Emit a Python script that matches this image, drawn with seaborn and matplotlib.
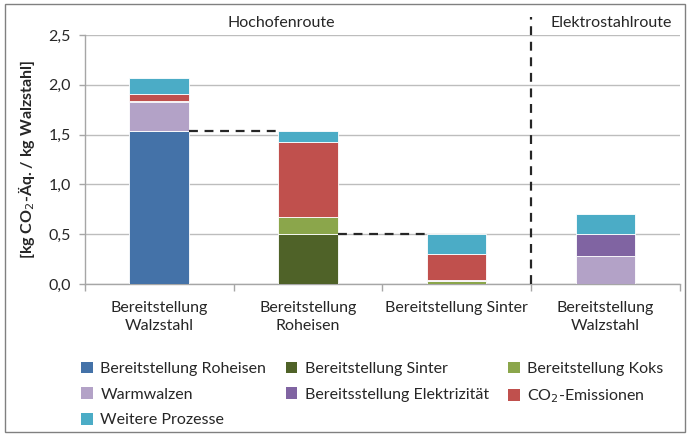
import numpy as np
import pandas as pd
import matplotlib
matplotlib.use("Agg")
import matplotlib.pyplot as plt
import seaborn as sns
from matplotlib.patches import Rectangle, Patch
from matplotlib.ticker import FuncFormatter, FixedLocator

# ── data ──────────────────────────────────────
categories = ["Bereitstellung\nWalzstahl", "Bereitstellung\nRoheisen",
              "Bereitstellung Sinter", "Bereitstellung\nWalzstahl"]
cat_ids = ["c0", "c1", "c2", "c3"]

roheisen     = [1.54, 0.00, 0.00, 0.00]
sinter       = [0.00, 0.505, 0.00, 0.00]
koks         = [0.00, 0.165, 0.03, 0.00]
warmwalzen   = [0.29, 0.00, 0.015, 0.28]
elektrizitaet = [0.01, 0.00, 0.00, 0.22]
co2          = [0.065, 0.76, 0.255, 0.00]
weitere      = [0.165, 0.11, 0.20, 0.20]

series_names = ["Bereitstellung Roheisen", "Bereitstellung Sinter", "Bereitstellung Koks",
                "Warmwalzen", "Bereitsstellung Elektrizität", "CO$_2$-Emissionen",
                "Weitere Prozesse"]
series_vals = [roheisen, sinter, koks, warmwalzen, elektrizitaet, co2, weitere]
colors = ["#4472A8", "#4F6228", "#8BA64B", "#B3A2C7", "#8064A2", "#C0504D", "#4BACC6"]

connector_levels = [1.54, 0.505]   # dashed links between bars
route_labels = ["Hochofenroute", "Elektrostahlroute"]

FS = 11.5

# ── plot ──────────────────────────────────────
sns.set_theme(style="white")
plt.rcParams["font.family"] = ["Lato", "DejaVu Sans"]

fig = plt.figure(figsize=(6.9, 4.37), dpi=100)
ax = fig.add_axes([0.123, 0.35, 0.862, 0.57])

bottom = np.zeros(len(cat_ids))
for name, vals, col in zip(series_names, series_vals, colors):
    df = pd.DataFrame({"cat": cat_ids, "val": vals})
    sns.barplot(data=df, x="cat", y="val", order=cat_ids, color=col, width=0.4, saturation=1,
                bottom=bottom, edgecolor="white", linewidth=0.6, ax=ax, zorder=3)
    bottom = bottom + np.array(vals)

ax.set_xlim(-0.5, 3.5)
ax.set_ylim(0, 2.5)
ax.set_yticks(np.arange(0, 2.51, 0.5))
ax.yaxis.set_major_formatter(FuncFormatter(lambda v, p: f"{v:.1f}".replace(".", ",")))
ax.yaxis.grid(True, color="#BDBDBD", linewidth=1.0, zorder=0)
ax.set_axisbelow(True)

ax.set_xticks(range(4))
ax.set_xticklabels(categories, fontsize=FS, color="#262626", linespacing=1.4)
ax.xaxis.set_minor_locator(FixedLocator([-0.5, 0.5, 1.5, 2.5, 3.5]))
ax.tick_params(axis="x", which="major", length=0, pad=12)
ax.tick_params(axis="x", which="minor", length=5, color="#A6A6A6", width=1.0, direction="out", bottom=True)
ax.tick_params(axis="y", length=4, color="#A6A6A6", width=1.0, direction="out", left=True,
               labelsize=FS, labelcolor="#262626", pad=6)

for s in ["top", "right"]:
    ax.spines[s].set_visible(False)
for s in ["left", "bottom"]:
    ax.spines[s].set_color("#A6A6A6")
    ax.spines[s].set_linewidth(1.0)

ax.set_xlabel("")
ax.set_ylabel("[kg CO$_2$-Äq. / kg Walzstahl]", fontsize=FS, fontweight="bold",
              color="#262626", labelpad=8)

# dashed connectors
ax.plot([0.2, 0.8], [connector_levels[0]] * 2, ls=(0, (4, 3)), color="#262626", lw=1.6, zorder=4)
ax.plot([1.2, 1.8], [connector_levels[1]] * 2, ls=(0, (4, 3)), color="#262626", lw=1.6, zorder=4)

# route separator
ax.plot([2.5, 2.5], [0, 2.68], ls=(0, (4, 3)), color="#262626", lw=1.6, clip_on=False, zorder=4)
ax.text(0.82, 2.62, route_labels[0], ha="center", va="center", fontsize=FS, color="#262626")
ax.text(3.04, 2.62, route_labels[1], ha="center", va="center", fontsize=FS, color="#262626")

# legend, filled row by row like the original
order = [0, 3, 6, 1, 4, 2, 5]
handles = [Patch(facecolor=colors[i], edgecolor="none") for i in order]
labels = [series_names[i] for i in order]
fig.legend(handles, labels, ncol=3, loc="upper left", bbox_to_anchor=(0.097, 0.205),
           frameon=False, fontsize=FS, handlelength=0.75, handleheight=0.75,
           handletextpad=0.45, columnspacing=1.2, labelspacing=0.7, labelcolor="#262626")

# figure frame
fig.patches.append(Rectangle((5 / 690, 5 / 437), 680 / 690, 428 / 437, transform=fig.transFigure,
                             fill=False, edgecolor="#808080", linewidth=1.0))

fig.savefig("out.png", dpi=100)
